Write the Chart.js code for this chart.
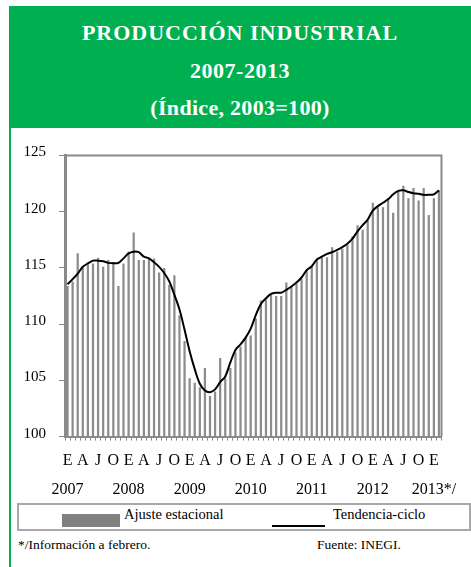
<!DOCTYPE html>
<html lang="es">
<head>
<meta charset="utf-8">
<title>Producción industrial 2007-2013</title>
<script src="https://cdn.jsdelivr.net/npm/chart.js@4.4.1/dist/chart.umd.min.js"></script>
<style>
    body { margin: 0; width: 471px; height: 567px; position: relative; overflow: hidden; background: #fff; font-family: "Liberation Serif", serif; color: #000; }
    #cabecera { position: absolute; left: 9px; top: 6px; width: 462px; height: 122px; background: #00b050; color: #fff; font-weight: bold; font-size: 22px; text-align: center; }
    #cabecera div { position: absolute; left: 0; right: 0; line-height: 30px; white-space: nowrap; }
    #bordeVerde { position: absolute; left: 9px; top: 128px; width: 2px; height: 439px; background: #00b050; }
    #grafica { position: absolute; left: 0; top: 130px; }
    #leyenda { position: absolute; left: 17px; top: 503px; width: 450px; height: 24px; border: 2px solid #a8a8a8; }
    .ley { position: absolute; font-size: 14.5px; line-height: 20px; white-space: nowrap; }
    .pie { position: absolute; top: 535px; font-size: 13.5px; line-height: 20px; white-space: nowrap; }
</style>
</head>
<body>
<div id="cabecera">
    <div style="top: 12px; letter-spacing: 1px;">PRODUCCIÓN INDUSTRIAL</div>
    <div style="top: 50px; letter-spacing: 0.5px;">2007-2013</div>
    <div style="top: 87px; letter-spacing: 0.3px;">(Índice, 2003=100)</div>
</div>
<div id="bordeVerde"></div>
<canvas id="grafica" width="471" height="372"></canvas>
<div id="leyenda"></div>
<div style="position:absolute; left:62px; top:514px; width:58px; height:12.5px; background:#808080;"></div>
<div class="ley" style="left:124px; top:504px;">Ajuste estacional</div>
<div style="position:absolute; left:272px; top:525px; width:53px; height:2px; background:#000;"></div>
<div class="ley" style="left:333px; top:504px;">Tendencia-ciclo</div>
<div class="pie" style="left:18px;">*/Información a febrero.</div>
<div class="pie" style="left:317px;">Fuente: INEGI.</div>

<script>
// Datos: enero 2007 a febrero 2013 (índice 2003=100)
const anios = ['2007', '2008', '2009', '2010', '2011', '2012', '2013*/']
const letrasMes = ['E', 'F', 'M', 'A', 'M', 'J', 'J', 'A', 'S', 'O', 'N', 'D']

const ajusteEstacional = [
    113.4, 113.8, 116.3, 115.0, 115.3, 115.4, 115.9, 115.1, 115.7, 115.5, 113.4, 115.4,
    116.45, 118.15, 115.7, 115.7, 115.8, 115.85, 114.6, 115.0, 113.5, 114.35, 110.8, 108.5,
    105.2, 104.8, 104.4, 106.1, 103.6, 104.0, 107.0, 105.2, 106.1, 107.5, 108.0, 108.8,
    109.0, 110.5, 112.1, 112.2, 112.6, 112.5, 112.5, 113.7, 113.3, 113.6, 114.0, 114.8,
    115.1, 115.7, 115.95, 115.95, 116.85, 116.45, 116.7, 117.05, 117.8, 118.8, 118.4, 119.2,
    120.8, 120.4, 120.4, 121.2, 119.9, 121.8, 122.3, 121.2, 122.1, 121.0, 122.1, 119.7,
    121.2, 121.9
]

const tendenciaCiclo = [
    113.55, 114.0, 114.5, 115.1, 115.4, 115.65, 115.65, 115.6, 115.45, 115.42, 115.45, 115.85,
    116.3, 116.45, 116.4, 116.0, 115.85, 115.5, 115.1, 114.55, 113.8, 112.6, 111.3, 109.5,
    107.6, 106.0, 104.7, 104.1, 103.95, 104.2, 104.85, 105.35, 106.6, 107.7, 108.2, 108.8,
    109.6, 110.8, 111.8, 112.3, 112.7, 112.8, 112.8, 113.05, 113.35, 113.7, 114.15, 114.8,
    115.15, 115.75, 116.0, 116.25, 116.4, 116.6, 116.85, 117.15, 117.6, 118.25, 118.8, 119.3,
    120.1, 120.5, 120.8, 121.1, 121.55, 121.85, 121.9, 121.75, 121.65, 121.6, 121.5, 121.5,
    121.55, 121.9
]

const ticksY = [100, 105, 110, 115, 120, 125]

const colorEje = '#8a8a8a'
const colorBarra = '#8c8c8c'
const fuente = 'Liberation Serif'

// Categorías mensuales [letra, año]
const categorias = []
anios.forEach((anio) => letrasMes.forEach((mes) => categorias.push([mes, anio])))
categorias.length = ajusteEstacional.length

// Marco superior y derecho del área de trazado
const marcoPlot = {
    id: 'marcoPlot',
    afterDatasetsDraw (chart) {
        const { ctx, chartArea: a } = chart
        ctx.save()
        ctx.strokeStyle = colorEje
        ctx.lineWidth = 2
        ctx.beginPath()
        ctx.moveTo(a.left, a.top)
        ctx.lineTo(a.right, a.top)
        ctx.lineTo(a.right, a.bottom)
        ctx.stroke()
        ctx.restore()
    }
}

new Chart(document.getElementById('grafica'), {
    type: 'bar',
    data: {
        labels: categorias.map((c) => c.join(' ')),
        datasets: [{
            type: 'line',
            label: 'Tendencia-ciclo',
            data: tendenciaCiclo,
            borderColor: '#000',
            borderWidth: 2,
            pointRadius: 0,
            tension: 0.35,
            fill: false,
            order: 0
        }, {
            type: 'bar',
            label: 'Ajuste estacional',
            data: ajusteEstacional,
            backgroundColor: colorBarra,
            base: ticksY[0],
            categoryPercentage: 1,
            barPercentage: 0.44,
            order: 1
        }]
    },
    options: {
        responsive: false,
        animation: false,
        layout: { padding: { top: 25.5, right: 29.5, left: 0, bottom: 0 } },
        plugins: {
            legend: { display: false },
            tooltip: { enabled: false }
        },
        scales: {
            x: {
                offset: true,
                grid: { offset: true, drawOnChartArea: false, tickLength: 4, color: colorEje },
                border: { color: colorEje, width: 2 },
                ticks: {
                    autoSkip: false,
                    maxRotation: 0,
                    minRotation: 0,
                    padding: 5,
                    color: '#000',
                    font: { family: fuente, size: 16, lineHeight: 1.84 },
                    callback (value, index) {
                        const [mes, anio] = categorias[index]
                        if (index % 12 === 0) return [mes, anio]
                        if (index % 3 === 0) return mes
                        return ''
                    }
                },
                afterFit (scale) { scale.height = 65.4 }
            },
            y: {
                min: ticksY[0],
                max: ticksY[ticksY.length - 1],
                ticks: {
                    stepSize: 5,
                    padding: 13,
                    labelOffset: -3,
                    color: '#000',
                    font: { family: fuente, size: 15 }
                },
                grid: { drawOnChartArea: false, tickLength: 6, color: colorEje },
                border: { color: colorEje, width: 3 },
                afterFit (scale) { scale.width = 65 }
            }
        }
    },
    plugins: [marcoPlot]
})
</script>
</body>
</html>
